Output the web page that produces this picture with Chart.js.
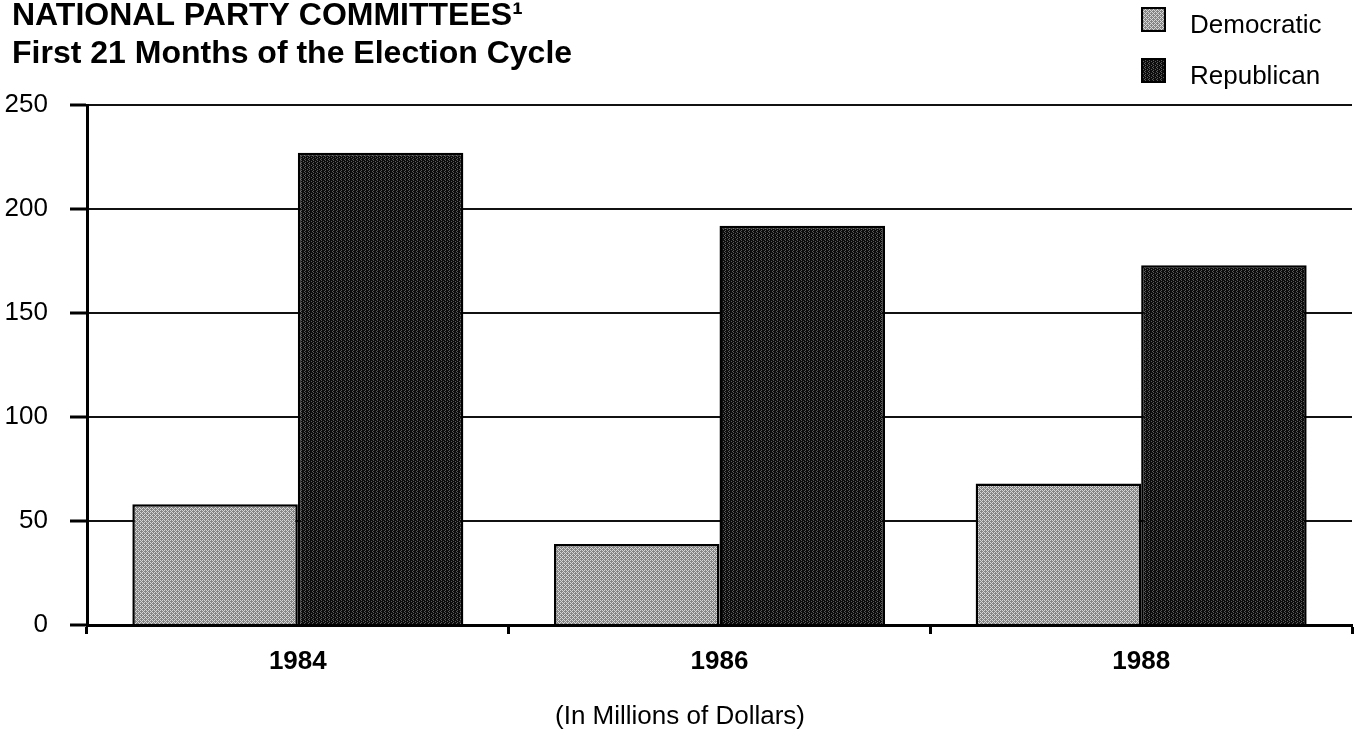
<!DOCTYPE html>
<html>
<head>
<meta charset="utf-8">
<script src="https://cdn.jsdelivr.net/npm/chart.js@4.4.1/dist/chart.umd.min.js"></script>
<style>
    html, body { margin: 0; padding: 0; background: #fff; }
    #wrap { width: 1356px; height: 730px; }
</style>
</head>
<body>
<div id="wrap"><canvas id="partyChart" width="1356" height="730"></canvas></div>
<script>
const years = ['1984', '1986', '1988'];
const democratic = [58, 39, 68];
const republican = [227, 192, 173];
const yTicks = [0, 50, 100, 150, 200, 250];
const titleLines = ['NATIONAL PARTY COMMITTEES\u00b9', 'First 21 Months of the Election Cycle'];
const unitNote = '(In Millions of Dollars)';

const FONT = '"Liberation Sans", Arial, Helvetica, sans-serif';

// small dithered tiles to mimic the printed screen tones
function makePattern(rows, colors) {
    const tile = document.createElement('canvas');
    tile.width = rows[0].length;
    tile.height = rows.length;
    const tctx = tile.getContext('2d');
    rows.forEach((row, y) => {
        row.split('').forEach((ch, x) => {
            tctx.fillStyle = colors[ch];
            tctx.fillRect(x, y, 1, 1);
        });
    });
    return document.getElementById('partyChart').getContext('2d').createPattern(tile, 'repeat');
}

const demFill = makePattern(['abab', 'babb', 'abab', 'bbba'], { a: '#d6d6d6', b: '#858585' });
const repFill = makePattern(['cdcc', 'cccd', 'cdcc', 'dccc'], { c: '#0c0c0c', d: '#5a5a5a' });

const headerPlugin = {
    id: 'header',
    afterDraw(chart) {
        const ctx = chart.ctx;
        ctx.save();
        ctx.fillStyle = '#000';
        ctx.textAlign = 'left';
        ctx.textBaseline = 'alphabetic';
        ctx.font = 'bold 32px ' + FONT;
        ctx.fillText(titleLines[0], 12, 25);
        ctx.fillText(titleLines[1], 12, 63);

        // legend, stacked at top right
        const items = chart.data.datasets;
        items.forEach((ds, i) => {
            const top = 8 + i * 51;
            ctx.fillStyle = ds.backgroundColor;
            ctx.fillRect(1142, top, 23, 23);
            ctx.strokeStyle = '#000';
            ctx.lineWidth = 2;
            ctx.strokeRect(1142, top, 23, 23);
            ctx.fillStyle = '#000';
            ctx.font = '26px ' + FONT;
            ctx.fillText(ds.label, 1190, top + 25);
        });

        ctx.textAlign = 'center';
        ctx.font = '26px ' + FONT;
        ctx.fillText(unitNote, 680, 724);
        ctx.restore();
    }
};

const chart = new Chart(document.getElementById('partyChart'), {
    type: 'bar',
    data: {
        labels: years,
        datasets: [
            {
                label: 'Democratic',
                data: democratic,
                backgroundColor: demFill,
                borderColor: '#000',
                borderWidth: 2.5,
                borderSkipped: 'bottom'
            },
            {
                label: 'Republican',
                data: republican,
                backgroundColor: repFill,
                borderColor: '#000',
                borderWidth: 2.5,
                borderSkipped: 'bottom'
            }
        ]
    },
    options: {
        responsive: false,
        animation: false,
        layout: { padding: { top: 105, right: 4, left: 0, bottom: 0 } },
        datasets: {
            bar: { categoryPercentage: 0.785, barPercentage: 1.0 }
        },
        plugins: {
            legend: { display: false },
            title: { display: false },
            tooltip: { enabled: false }
        },
        scales: {
            x: {
                offset: true,
                grid: {
                    display: true,
                    drawOnChartArea: false,
                    offset: true,
                    tickLength: 9,
                    tickWidth: 3,
                    tickColor: '#000'
                },
                border: { color: '#000', width: 3 },
                ticks: {
                    color: '#000',
                    font: { family: FONT, size: 26, weight: 'bold' },
                    padding: 12
                },
                afterFit(scale) { scale.height = 105; }
            },
            y: {
                min: 0,
                max: 250,
                afterBuildTicks(scale) { scale.ticks = yTicks.map(v => ({ value: v })); },
                grid: {
                    color: '#111',
                    lineWidth: 2,
                    tickLength: 17,
                    tickWidth: 3,
                    tickColor: '#000'
                },
                border: { color: '#000', width: 3 },
                ticks: {
                    color: '#000',
                    font: { family: FONT, size: 26 },
                    padding: 22
                },
                afterFit(scale) { scale.width = 87; }
            }
        }
    },
    plugins: [headerPlugin]
});
</script>
</body>
</html>
